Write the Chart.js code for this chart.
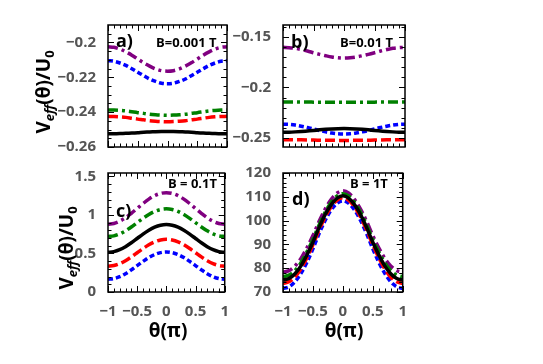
<!DOCTYPE html>
<html><head><meta charset="utf-8">
<script src="https://cdn.jsdelivr.net/npm/chart.js@4"></script>
<style>
html,body{margin:0;padding:0;background:#fff;width:543px;height:364px;overflow:hidden;font-family:"Open Sans",sans-serif}
body{position:relative}
canvas{position:absolute}
.lbl{position:absolute;font-weight:bold;color:#000;white-space:nowrap;line-height:1;z-index:5}
.yt{position:absolute;font-weight:bold;font-size:19px;color:#000;white-space:nowrap;line-height:1;transform:translate(-50%,-50%) rotate(-90deg);z-index:5}
.yt sub{font-size:13px;vertical-align:-4px;line-height:0}
.xt{position:absolute;font-weight:bold;font-size:19px;color:#000;white-space:nowrap;line-height:1;transform:translate(-50%,-50%);z-index:5}
</style></head><body>
<canvas id="ca" width="232" height="160" style="left:0;top:0;width:232px;height:160px"></canvas>
<canvas id="cb" width="178" height="160" style="left:232px;top:0;width:178px;height:160px"></canvas>
<canvas id="cc" width="232" height="204" style="left:0;top:160px;width:232px;height:204px"></canvas>
<canvas id="cd" width="178" height="204" style="left:232px;top:160px;width:178px;height:204px"></canvas>

<div class="lbl" style="left:116px;top:31px;font-size:18px">a)</div>
<div class="lbl" style="left:156px;top:36px;font-size:13px">B=0.001 T</div>
<div class="lbl" style="left:291px;top:32px;font-size:18px">b)</div>
<div class="lbl" style="left:340px;top:36px;font-size:13px">B=0.01 T</div>
<div class="lbl" style="left:116px;top:201px;font-size:18px">c)</div>
<div class="lbl" style="left:168px;top:177px;font-size:13px">B = 0.1T</div>
<div class="lbl" style="left:292px;top:189px;font-size:18px">d)</div>
<div class="lbl" style="left:350px;top:177px;font-size:13px">B = 1T</div>

<div class="yt" style="left:43px;top:92px">V<sub><i>eff</i></sub>(θ)/U<sub>0</sub></div>
<div class="yt" style="left:66px;top:248px">V<sub><i>eff</i></sub>(θ)/U<sub>0</sub></div>
<div class="xt" style="left:168px;top:330px">θ(π)</div>
<div class="xt" style="left:344px;top:330px">θ(π)</div>

<script>
// ---- data ----
const THETA = [-1,-0.9,-0.8,-0.7,-0.6,-0.5,-0.4,-0.3,-0.2,-0.1,0,0.1,0.2,0.3,0.4,0.5,0.6,0.7,0.8,0.9,1];
const X_TICKS = [-1,-0.5,0,0.5,1];
const X_MINOR = [-0.9,-0.8,-0.7,-0.6,-0.4,-0.3,-0.2,-0.1,0.1,0.2,0.3,0.4,0.6,0.7,0.8,0.9];

// panel a) B=0.001 T
const A_PURPLE = [-0.2025,-0.2028,-0.2038,-0.2054,-0.2073,-0.2095,-0.2117,-0.2136,-0.2152,-0.2162,-0.2165,-0.2162,-0.2152,-0.2136,-0.2117,-0.2095,-0.2073,-0.2054,-0.2038,-0.2028,-0.2025];
const A_BLUE   = [-0.2105,-0.2108,-0.2118,-0.2132,-0.2151,-0.2171,-0.2191,-0.2210,-0.2224,-0.2234,-0.2237,-0.2234,-0.2224,-0.2210,-0.2191,-0.2171,-0.2151,-0.2132,-0.2118,-0.2108,-0.2105];
const A_GREEN  = [-0.2387,-0.2388,-0.2390,-0.2393,-0.2398,-0.2403,-0.2407,-0.2412,-0.2415,-0.2417,-0.2418,-0.2417,-0.2415,-0.2412,-0.2407,-0.2403,-0.2398,-0.2393,-0.2390,-0.2388,-0.2387];
const A_RED    = [-0.2424,-0.2425,-0.2427,-0.2430,-0.2435,-0.2440,-0.2444,-0.2449,-0.2452,-0.2454,-0.2455,-0.2454,-0.2452,-0.2449,-0.2444,-0.2440,-0.2435,-0.2430,-0.2427,-0.2425,-0.2424];
const A_BLACK  = [-0.2524,-0.2524,-0.2523,-0.2521,-0.2520,-0.2518,-0.2515,-0.2514,-0.2512,-0.2511,-0.2511,-0.2511,-0.2512,-0.2514,-0.2515,-0.2518,-0.2520,-0.2521,-0.2523,-0.2524,-0.2524];
const A_Y_TICKS = [-0.26,-0.24,-0.22,-0.2];
const A_Y_MINOR = [-0.255,-0.25,-0.245,-0.235,-0.23,-0.225,-0.215,-0.21,-0.205,-0.195];
const A_Y_RANGE = [-0.26,-0.19];

// panel b) B=0.01 T
const B_PURPLE = [-0.1605,-0.1608,-0.1615,-0.1627,-0.1641,-0.1658,-0.1674,-0.1688,-0.1700,-0.1707,-0.1710,-0.1707,-0.1700,-0.1688,-0.1674,-0.1658,-0.1641,-0.1627,-0.1615,-0.1608,-0.1605];
const B_GREEN  = [-0.2143,-0.2143,-0.2143,-0.2144,-0.2144,-0.2145,-0.2146,-0.2146,-0.2147,-0.2147,-0.2147,-0.2147,-0.2147,-0.2146,-0.2146,-0.2145,-0.2144,-0.2144,-0.2143,-0.2143,-0.2143];
const B_BLUE   = [-0.2362,-0.2364,-0.2371,-0.2382,-0.2395,-0.2410,-0.2425,-0.2438,-0.2449,-0.2456,-0.2458,-0.2456,-0.2449,-0.2438,-0.2425,-0.2410,-0.2395,-0.2382,-0.2371,-0.2364,-0.2362];
const B_BLACK  = [-0.2442,-0.2441,-0.2438,-0.2434,-0.2429,-0.2424,-0.2418,-0.2413,-0.2409,-0.2406,-0.2405,-0.2406,-0.2409,-0.2413,-0.2418,-0.2424,-0.2429,-0.2434,-0.2438,-0.2441,-0.2442];
const B_RED    = [-0.2515,-0.2515,-0.2516,-0.2516,-0.2517,-0.2519,-0.2520,-0.2521,-0.2521,-0.2522,-0.2522,-0.2522,-0.2521,-0.2521,-0.2520,-0.2519,-0.2517,-0.2516,-0.2516,-0.2515,-0.2515];
const B_Y_TICKS = [-0.25,-0.2,-0.15];
const B_Y_MINOR = [-0.24,-0.23,-0.22,-0.21,-0.19,-0.18,-0.17,-0.16,-0.14];
const B_Y_RANGE = [-0.2587,-0.1385];

// panel c) B = 0.1T
const C_PURPLE = [0.880,0.890,0.919,0.964,1.022,1.085,1.148,1.206,1.251,1.280,1.290,1.280,1.251,1.206,1.148,1.085,1.022,0.964,0.919,0.890,0.880];
const C_GREEN  = [0.720,0.729,0.754,0.794,0.844,0.900,0.956,1.006,1.046,1.071,1.080,1.071,1.046,1.006,0.956,0.900,0.844,0.794,0.754,0.729,0.720];
const C_BLACK  = [0.515,0.524,0.549,0.589,0.639,0.695,0.751,0.801,0.841,0.866,0.875,0.866,0.841,0.801,0.751,0.695,0.639,0.589,0.549,0.524,0.515];
const C_RED    = [0.335,0.344,0.368,0.407,0.456,0.510,0.564,0.613,0.652,0.676,0.685,0.676,0.652,0.613,0.564,0.510,0.456,0.407,0.368,0.344,0.335];
const C_BLUE   = [0.165,0.174,0.199,0.238,0.288,0.343,0.397,0.447,0.486,0.511,0.520,0.511,0.486,0.447,0.397,0.343,0.288,0.238,0.199,0.174,0.165];
const C_Y_TICKS = [0,0.5,1,1.5];
const C_Y_MINOR = [0.1,0.2,0.3,0.4,0.6,0.7,0.8,0.9,1.1,1.2,1.3,1.4];
const C_Y_RANGE = [0,1.545];

// panel d) B = 1T
const D_PURPLE = [78.3,79.0,80.9,84.1,88.6,93.7,99.5,104.6,108.7,111.5,112.5,111.5,108.7,104.6,99.5,93.7,88.6,84.1,80.9,79.0,78.3];
const D_GREEN  = [76.4,77.1,79.0,82.3,86.9,92.1,98.0,103.3,107.5,110.3,111.3,110.3,107.5,103.3,98.0,92.1,86.9,82.3,79.0,77.1,76.4];
const D_BLACK  = [75.0,75.7,77.7,81.0,85.6,90.9,96.9,102.3,106.5,109.3,110.4,109.3,106.5,102.3,96.9,90.9,85.6,81.0,77.7,75.7,75.0];
const D_RED    = [73.6,74.3,76.3,79.7,84.4,89.8,95.9,101.3,105.6,108.5,109.6,108.5,105.6,101.3,95.9,89.8,84.4,79.7,76.3,74.3,73.6];
const D_BLUE   = [71.5,72.2,74.3,77.8,82.5,88.1,94.3,99.8,104.3,107.2,108.3,107.2,104.3,99.8,94.3,88.1,82.5,77.8,74.3,72.2,71.5];
const D_Y_TICKS = [70,80,90,100,110,120];
const D_Y_MINOR = [72,74,76,78,82,84,86,88,92,94,96,98,102,104,106,108,112,114,116,118];
const D_Y_RANGE = [70,120];

// ---- styles ----
const STYLE = {
  purple:{color:'#800080', dash:[10,4,3,4]},
  blue:  {color:'#0000ff', dash:[5,3]},
  green: {color:'#008000', dash:[10,4,3,4]},
  red:   {color:'#ff0000', dash:[10,4]},
  black: {color:'#000000', dash:[]}
};

function ds(vals, key){
  const s = STYLE[key];
  return {
    data: THETA.map((t,i)=>({x:t, y:vals[i]})),
    borderColor: s.color, borderDash: s.dash, borderWidth: 3.5,
    pointRadius: 0, fill:false, cubicInterpolationMode:'monotone', borderCapStyle:'butt'
  };
}

const fmt = v => String(v).replace('-', '\u2212');

const frameTicks = {
  id:'frameTicks',
  afterDatasetsDraw(chart, args, opts){
    const {ctx, chartArea:a, scales:{x, y}} = chart;
    ctx.save();
    ctx.strokeStyle = '#000';
    ctx.lineWidth = 1;
    const tick = (px, isX, len) => {
      ctx.beginPath();
      if (isX) {
        ctx.moveTo(px, a.bottom); ctx.lineTo(px, a.bottom - len);
        ctx.moveTo(px, a.top); ctx.lineTo(px, a.top + len);
      } else {
        ctx.moveTo(a.left, px); ctx.lineTo(a.left + len, px);
        ctx.moveTo(a.right, px); ctx.lineTo(a.right - len, px);
      }
      ctx.stroke();
    };
    X_TICKS.forEach(v => tick(Math.round(x.getPixelForValue(v))+0.5, true, 6));
    X_MINOR.forEach(v => tick(Math.round(x.getPixelForValue(v))+0.5, true, 3.5));
    opts.yt.forEach(v => tick(Math.round(y.getPixelForValue(v))+0.5, false, 6));
    opts.ym.forEach(v => tick(Math.round(y.getPixelForValue(v))+0.5, false, 3.5));
    ctx.lineWidth = 1.5;
    ctx.strokeRect(a.left, a.top, a.right - a.left, a.bottom - a.top);
    ctx.restore();
  }
};

function panel(id, datasets, yRange, yTicks, yMinor, showX, box){
  // box: [yAxisWidth, padTop, padRight, xAxisHeight]
  new Chart(document.getElementById(id), {
    type:'line',
    data:{datasets},
    plugins:[frameTicks],
    options:{
      responsive:false, animation:false, devicePixelRatio:1,
      layout:{padding:{top:box[1], right:box[2], left:0, bottom:0}},
      plugins:{legend:{display:false}, tooltip:{enabled:false}, frameTicks:{yt:yTicks, ym:yMinor}},
      scales:{
        x:{type:'linear', min:-1, max:1,
           grid:{display:false}, border:{display:false},
           afterBuildTicks: s => { s.ticks = X_TICKS.map(v=>({value:v})); },
           afterFit: s => { s.height = box[3]; },
           ticks:{display:showX, padding:3, color:'#555', maxRotation:0, autoSkip:false,
                  font:{family:'"Open Sans"', size:15, weight:'bold'}, callback: v => fmt(v)}},
        y:{type:'linear', min:yRange[0], max:yRange[1],
           grid:{display:false}, border:{display:false},
           afterBuildTicks: s => { s.ticks = yTicks.map(v=>({value:v})); },
           afterFit: s => { s.width = box[0]; },
           ticks:{padding:4, color:'#555', autoSkip:false,
                  font:{family:'"Open Sans"', size:15, weight:'bold'}, callback: v => fmt(v)}}
      }
    }
  });
}

panel('ca', [ds(A_BLACK,'black'),ds(A_RED,'red'),ds(A_GREEN,'green'),ds(A_BLUE,'blue'),ds(A_PURPLE,'purple')],
      A_Y_RANGE, A_Y_TICKS, A_Y_MINOR, false, [108,25,5,12]);
panel('cb', [ds(B_BLACK,'black'),ds(B_RED,'red'),ds(B_GREEN,'green'),ds(B_BLUE,'blue'),ds(B_PURPLE,'purple')],
      B_Y_RANGE, B_Y_TICKS, B_Y_MINOR, false, [51,25,5,11]);
panel('cc', [ds(C_BLACK,'black'),ds(C_RED,'red'),ds(C_GREEN,'green'),ds(C_BLUE,'blue'),ds(C_PURPLE,'purple')],
      C_Y_RANGE, C_Y_TICKS, C_Y_MINOR, true, [108,13,5,72]);
panel('cd', [ds(D_BLACK,'black'),ds(D_RED,'red'),ds(D_GREEN,'green'),ds(D_BLUE,'blue'),ds(D_PURPLE,'purple')],
      D_Y_RANGE, D_Y_TICKS, D_Y_MINOR, true, [51,12,5,72]);
</script>
</body></html>
